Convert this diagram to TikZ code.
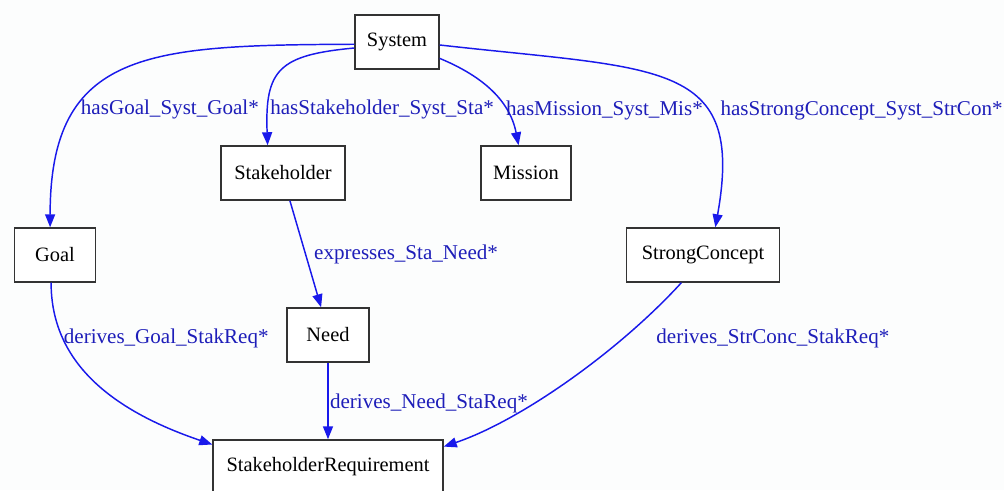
\documentclass[tikz,border=0pt]{standalone}
\usepackage{fontspec}
\setmainfont{Liberation Serif}
\usetikzlibrary{arrows.meta}
\definecolor{lienBleu}{RGB}{25,25,235}
\definecolor{texteBleu}{RGB}{30,30,185}
\definecolor{fondGris}{RGB}{252,253,253}

\begin{document}
\begin{tikzpicture}[x=0.75pt, y=-0.75pt, font=\rmfamily\fontsize{15.3}{18}\selectfont,
  concept/.style={draw=black!80, line width=1.1pt, fill=white, minimum height=40.5pt, inner sep=0pt},
  rel/.style={draw=lienBleu, line width=1.1pt, -{Triangle[length=9.75pt, width=7.5pt]}},
  rellabel/.style={text=texteBleu, anchor=west, inner sep=1pt, font=\rmfamily\fontsize{15.8}{18}\selectfont}]

\fill[fondGris] (0,0) rectangle (1004,490);
\useasboundingbox (0,0) rectangle (1004,490);

% classes
\node[concept, minimum width=63pt] (sys) at (397,42) {System};
\node[concept, minimum width=93pt] (stk) at (283,173) {Stakeholder};
\node[concept, minimum width=67.5pt] (mis) at (526,173) {Mission};
\node[concept, minimum width=60.75pt] (goal) at (55,255) {Goal};
\node[concept, minimum width=114.75pt] (sc) at (703,255) {StrongConcept};
\node[concept, minimum width=61.5pt] (need) at (328,335) {Need};
\node[concept, minimum width=172.5pt] (sr) at (328,467) {StakeholderRequirement};

% relations from System
\draw[rel] (sys.183) .. controls +(-205,1) and +(0,-178) .. node[rellabel, pos=.69, yshift=-2pt] {hasGoal\_Syst\_Goal*} (goal.100);
\draw[rel] (sys.188) .. controls +(-75,7) and +(-3,-76) .. node[rellabel, pos=.8, yshift=-2pt] {hasStakeholder\_Syst\_Sta*} (stk.119);
\draw[rel] (sys.339) .. controls +(41,17) and +(-9,-46) .. node[rellabel, pos=.68, yshift=-2pt] {hasMission\_Syst\_Mis*} (mis.105);
\draw[rel] (sys.356) .. controls +(221,25) and +(30,-168) .. node[rellabel, pos=.65, xshift=11pt, yshift=-2pt] {hasStrongConcept\_Syst\_StrCon*} (sc.66);

% relations down to the requirement
\draw[rel] (stk.284) -- node[rellabel, pos=.5, xshift=5pt] {expresses\_Sta\_Need*} (need.104);
\draw[rel] (goal.262) .. controls +(0,78) and +(-103,-35) .. node[rellabel, pos=.25, yshift=-2pt] {derives\_Goal\_StakReq*} (sr.169);
\draw[rel] (need.south) -- node[rellabel, pos=.53] {derives\_Need\_StaReq*} (sr.north);
\draw[rel] (sc.232) .. controls +(-62,68) and +(77,-26) .. node[rellabel, pos=.22, xshift=14pt, yshift=-8pt] {derives\_StrConc\_StakReq*} (sr.10);

\end{tikzpicture}
\end{document}
